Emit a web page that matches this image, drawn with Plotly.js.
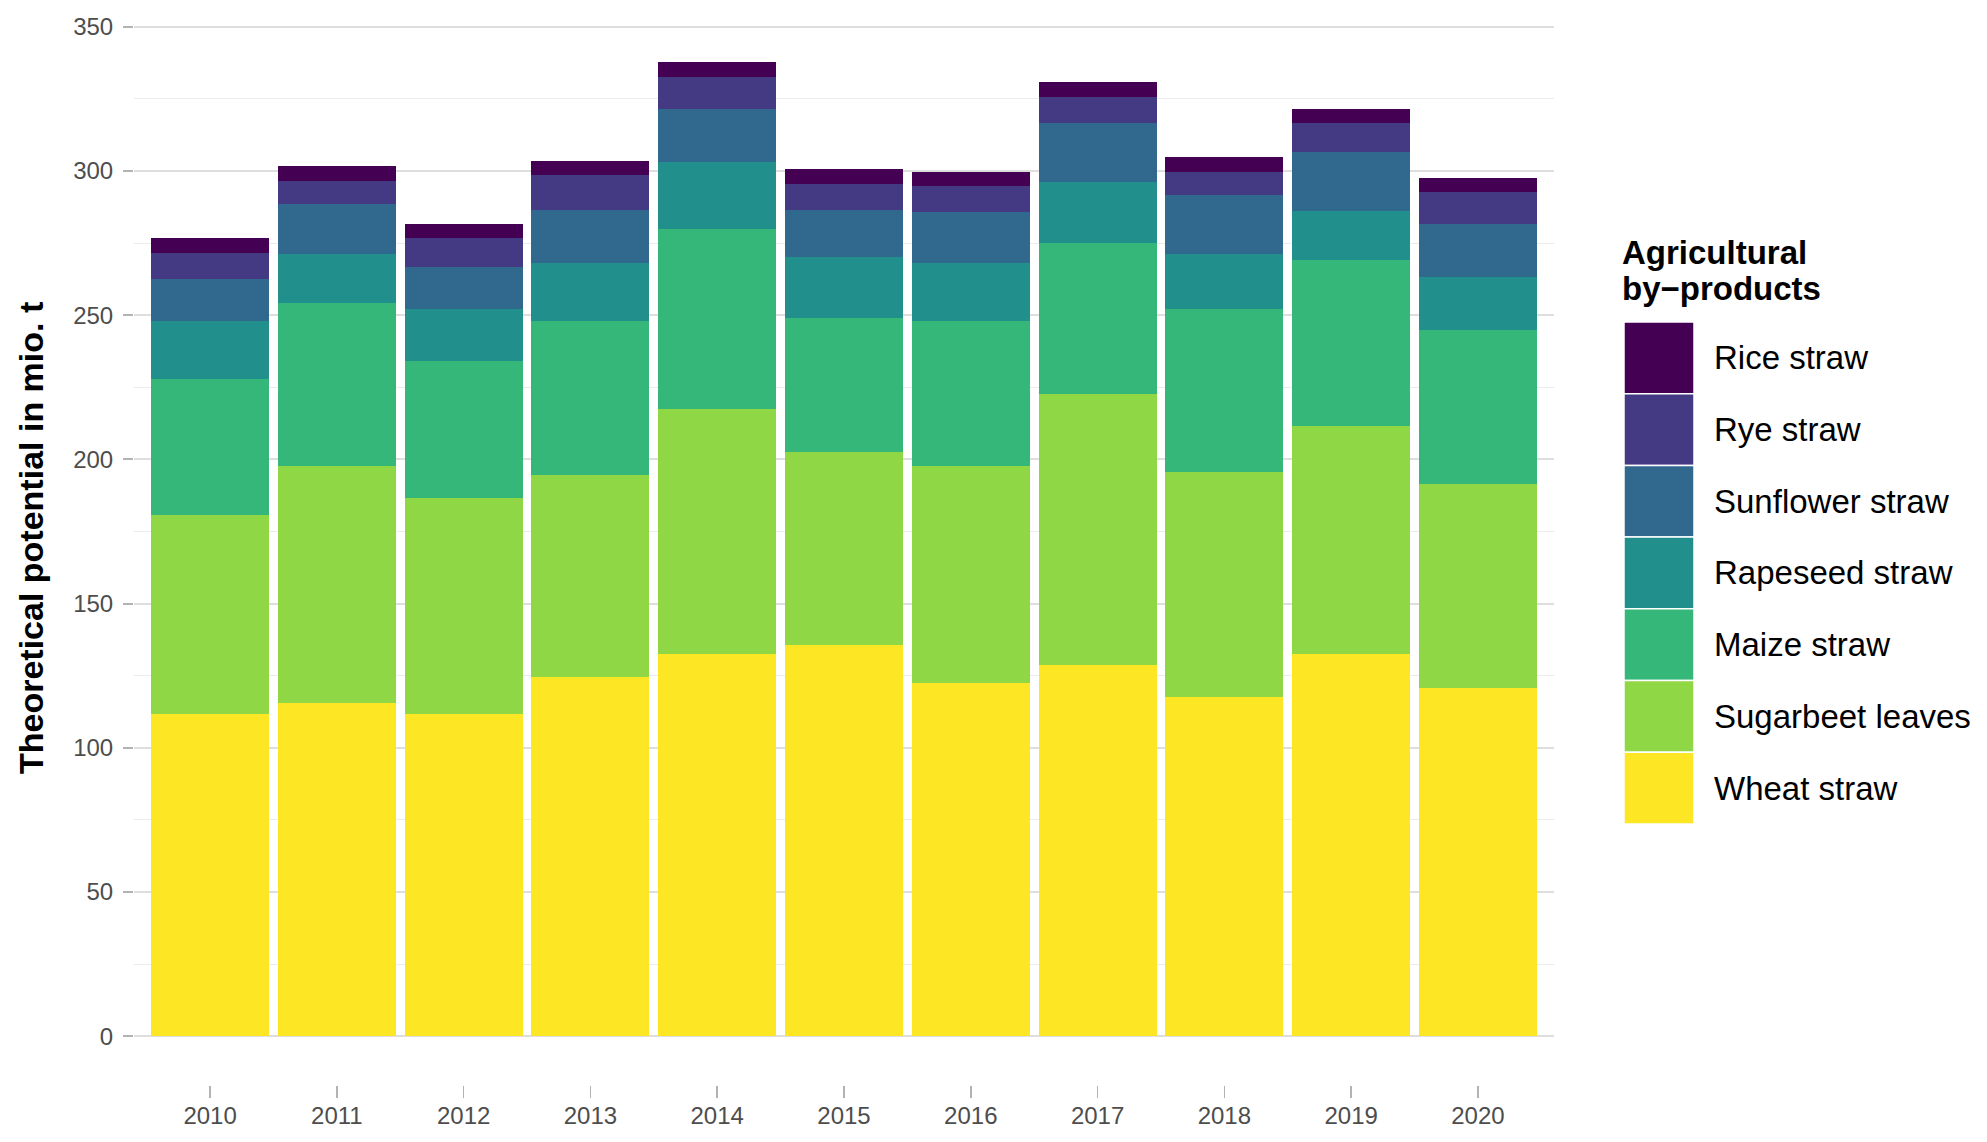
<!DOCTYPE html>
<html>
<head>
<meta charset="utf-8">
<script src="https://cdn.plot.ly/plotly-3.0.1.min.js"></script>
<style>html,body{margin:0;padding:0;background:#fff;}#chart{width:1987px;height:1142px;}</style>
</head>
<body>
<div id="chart"></div>
<script>
// ---- data ----
const years = ['2010','2011','2012','2013','2014','2015','2016','2017','2018','2019','2020'];
const seriesNames = ['Wheat straw','Sugarbeet leaves','Maize straw','Rapeseed straw','Sunflower straw','Rye straw','Rice straw'];
const wheatStraw      = [111.6, 115.5, 111.6, 124.7, 132.5, 135.5, 122.6, 128.6, 117.5, 132.5, 120.6];
const sugarbeetLeaves = [69.1, 82.1, 75.0, 69.9, 85.1, 67.2, 75.0, 94.1, 78.1, 79.1, 71.0];
const maizeStraw      = [47.3, 56.5, 47.4, 53.3, 62.4, 46.4, 50.3, 52.3, 56.5, 57.5, 53.4];
const rapeseedStraw   = [19.9, 17.0, 18.1, 20.2, 23.1, 21.0, 20.2, 21.2, 19.0, 17.0, 18.1];
const sunflowerStraw  = [14.7, 17.6, 14.6, 18.5, 18.5, 16.5, 17.5, 20.5, 20.6, 20.5, 18.5];
const ryeStraw        = [8.9, 7.8, 9.9, 12.0, 11.0, 9.0, 9.0, 9.0, 8.0, 10.1, 11.0];
const riceStraw       = [5.1, 5.1, 5.0, 5.0, 5.1, 5.0, 5.1, 5.1, 5.0, 4.9, 5.1];
const seriesValues = [wheatStraw, sugarbeetLeaves, maizeStraw, rapeseedStraw, sunflowerStraw, ryeStraw, riceStraw];
const seriesColors = ['#FDE725','#8FD744','#35B779','#21908C','#31688E','#443A83','#440154'];
const yTicks = [0, 50, 100, 150, 200, 250, 300, 350];
const yTitle = 'Theoretical potential in mio. t';
const legendTitleLines = ['Agricultural', 'by\u2212products'];

// ---- layout geometry (pixels) ----
const W = 1987, H = 1142;
const plotL = 134, plotR = 1554, plotT = 14, plotB = 1085;
const px = x => (x - plotL) / (plotR - plotL);
const py = y => (plotB - y) / (plotB - plotT);
const FONT = 'Liberation Sans, Arial, sans-serif';

const traces = seriesNames.map((name, i) => ({
  type: 'bar',
  name: name,
  x: years,
  y: seriesValues[i],
  marker: {color: seriesColors[i], line: {width: 0}},
  showlegend: false,
  hoverinfo: 'x+y+name'
}));

const shapes = [];
const annotations = [];
// legend keys (top to bottom: reverse order)
const keyX0 = 1624, keyX1 = 1694, keyTop = 322, keyH = 71.7;
for (let k = 0; k < seriesNames.length; k++) {
  const idx = seriesNames.length - 1 - k;
  const y0 = keyTop + k * keyH, y1 = y0 + keyH;
  shapes.push({type: 'rect', xref: 'paper', yref: 'paper',
    x0: px(keyX0), x1: px(keyX1), y0: py(y1), y1: py(y0),
    fillcolor: seriesColors[idx], line: {color: '#ffffff', width: 1.5}, layer: 'above'});
  annotations.push({xref: 'paper', yref: 'paper', x: px(1712), y: py((y0 + y1) / 2),
    xanchor: 'left', yanchor: 'middle', showarrow: false, text: seriesNames[idx],
    font: {family: FONT, size: 33, color: '#000000'}});
}
legendTitleLines.forEach((line, j) => {
  annotations.push({xref: 'paper', yref: 'paper', x: px(1620), y: py(232 + j * 36), xanchor: 'left', yanchor: 'top',
    align: 'left', showarrow: false, text: '<b>' + line + '</b>',
    font: {family: FONT, size: 33, color: '#000000'}});
});
annotations.push({xref: 'paper', yref: 'paper', x: px(31), y: py(538), xanchor: 'center', yanchor: 'middle',
  textangle: -90, showarrow: false, text: '<b>' + yTitle + '</b>',
  font: {family: FONT, size: 34, color: '#000000'}});

const layout = {
  width: W, height: H,
  margin: {l: plotL, r: W - plotR, t: plotT, b: H - plotB, pad: 0},
  paper_bgcolor: '#ffffff', plot_bgcolor: '#ffffff',
  barmode: 'stack', bargap: 0.07,
  font: {family: FONT},
  xaxis: {type: 'category', range: [-0.6, 10.6], showgrid: false, zeroline: false, showline: false,
    ticks: 'outside', ticklen: 12, tickwidth: 1.5, tickcolor: '#b3b3b3', ticklabelstandoff: -3,
    tickfont: {family: FONT, size: 24, color: '#4d4d4d'}},
  yaxis: {range: [-16.9, 354.4], tickvals: yTicks, showgrid: true, gridcolor: '#dedede', gridwidth: 2,
    zeroline: false, showline: false, ticks: 'outside', ticklen: 10, tickwidth: 2, tickcolor: '#b3b3b3',
    ticklabelstandoff: 5,
    tickfont: {family: FONT, size: 24, color: '#4d4d4d'},
    minor: {tick0: 25, dtick: 50, showgrid: true, gridcolor: '#ececec', gridwidth: 1, ticks: ''}},
  shapes: shapes,
  annotations: annotations
};

Plotly.newPlot('chart', traces, layout, {displayModeBar: false, staticPlot: true});
</script>
</body>
</html>
